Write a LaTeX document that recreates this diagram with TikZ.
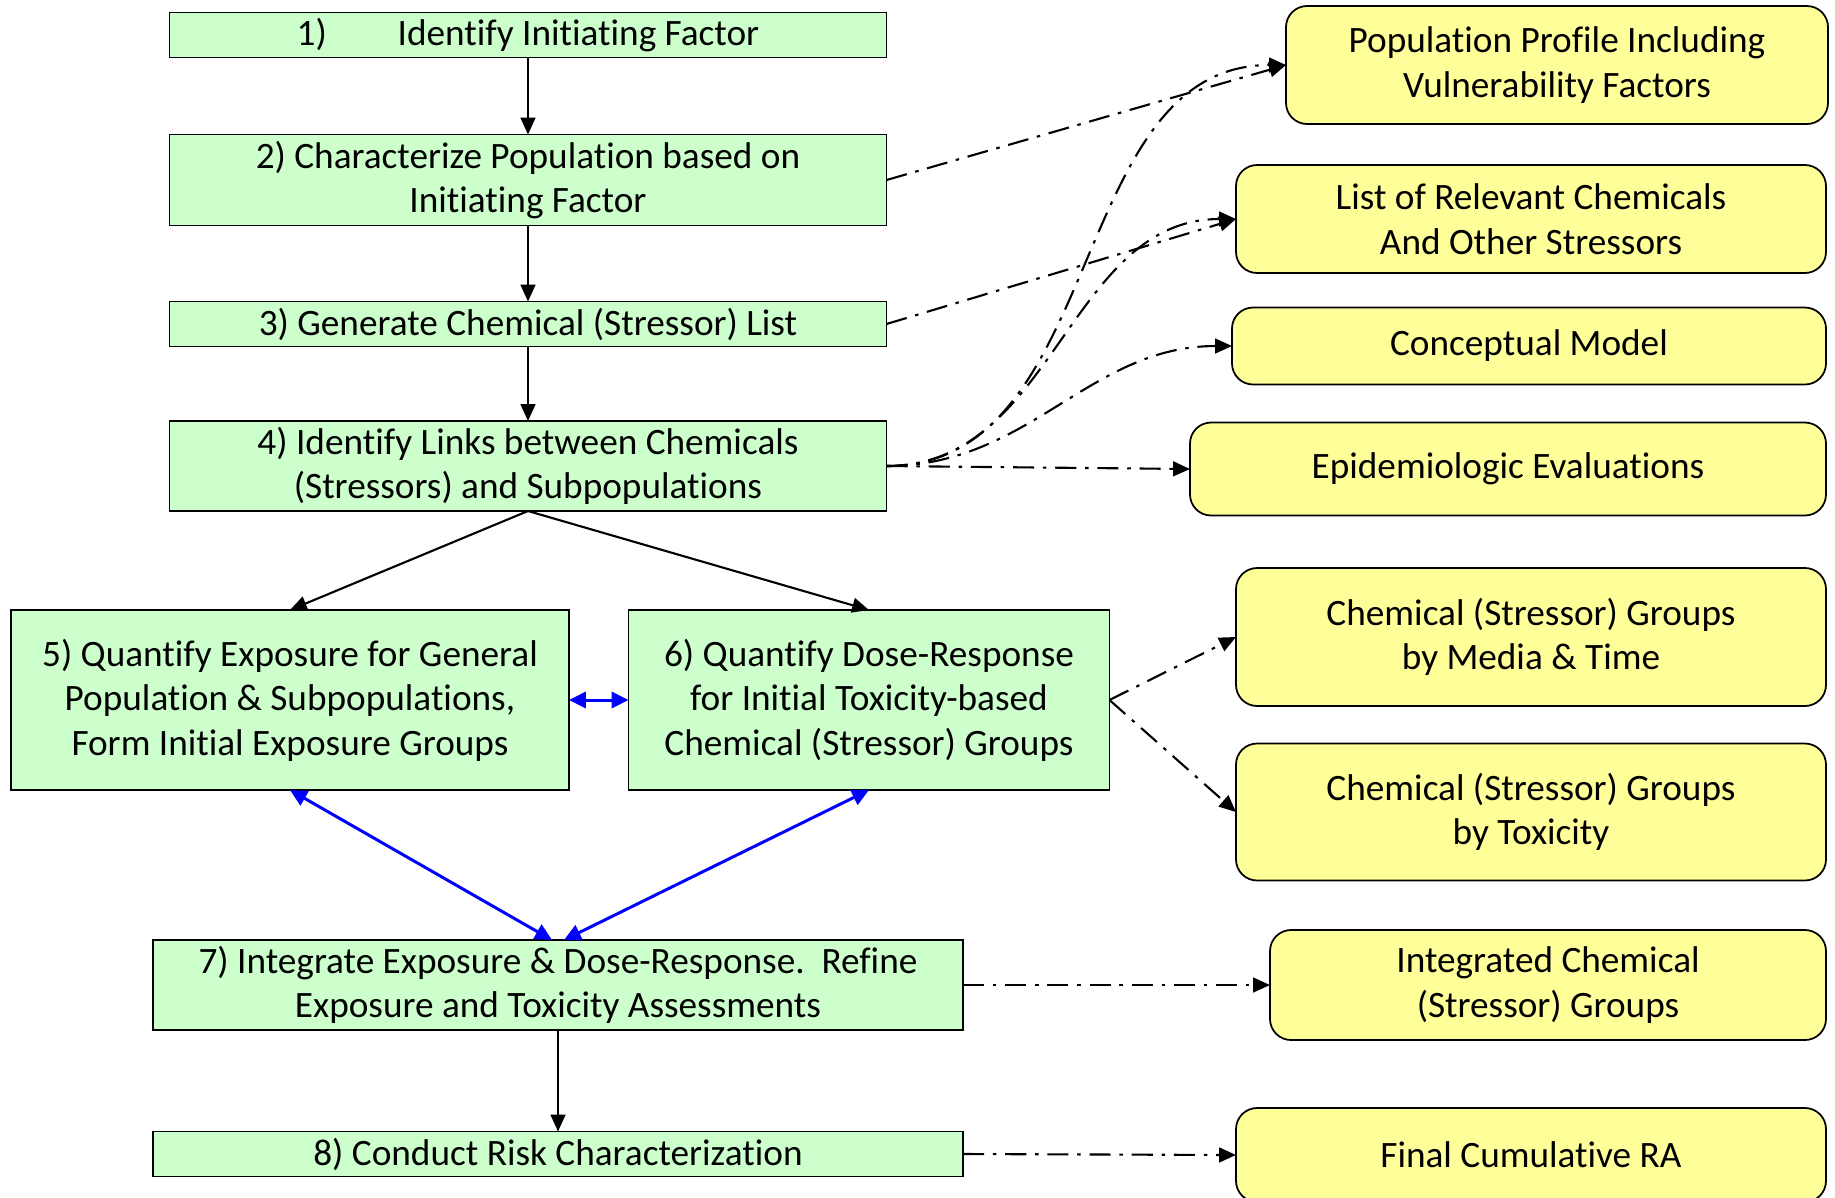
\documentclass[tikz,border=0pt]{standalone}
\usepackage{fontspec}
\setmainfont{Carlito}[RawFeature={-liga;-clig;-calt;-rlig;-dlig}]
\usetikzlibrary{arrows.meta}
\definecolor{stepgreen}{RGB}{204,255,204}
\definecolor{outyellow}{RGB}{255,255,153}
\begin{document}
\begin{tikzpicture}[
  stepbox/.style={draw=black, line width=0.5pt, fill=stepgreen, inner sep=0pt, outer sep=0pt, align=center, font=\fontsize{10.6}{12.7}\selectfont},
  outbox/.style={draw=black, line width=0.5pt, fill=outyellow, rounded corners=6pt, inner sep=0pt, outer sep=0pt, align=center, font=\fontsize{10.6}{12.7}\selectfont},
  flow/.style={line width=0.6pt, -{Triangle[length=4.8pt,width=4.2pt]}},
  link/.style={line width=0.85pt, blue, {Triangle[length=4.8pt,width=4.6pt]}-{Triangle[length=4.8pt,width=4.6pt]}},
  yields/.style={line width=0.6pt, dash pattern=on 6pt off 2.5pt on 1pt off 2.5pt, -{Triangle[length=4.8pt,width=4.2pt]}}
]
\useasboundingbox (0,0) rectangle (18.35,-11.97);

% steps
\node (s1) at (5.28,-0.35) [stepbox, minimum width=7.17cm, minimum height=0.45cm]{1)\hspace{1.9em}Identify Initiating Factor};
\node (s2) at (5.28,-1.80) [stepbox, minimum width=7.17cm, minimum height=0.91cm]{2) Characterize Population based on\\Initiating Factor};
\node (s3) at (5.28,-3.24) [stepbox, minimum width=7.17cm, minimum height=0.45cm]{3) Generate Chemical (Stressor) List};
\node (s4) at (5.28,-4.66) [stepbox, minimum width=7.17cm, minimum height=0.90cm]{4) Identify Links between Chemicals\\(Stressors) and Subpopulations};
\node (s5) at (2.90,-7.00) [stepbox, minimum width=5.58cm, minimum height=1.80cm]{5) Quantify Exposure for General\\Population \& Subpopulations,\\Form Initial Exposure Groups};
\node (s6) at (8.69,-7.00) [stepbox, minimum width=4.81cm, minimum height=1.80cm]{6) Quantify Dose-Response\\for Initial Toxicity-based\\Chemical (Stressor) Groups};
\node (s7) at (5.58,-9.85) [stepbox, minimum width=8.10cm, minimum height=0.90cm]{7) Integrate Exposure \& Dose-Response.\ \ Refine\\Exposure and Toxicity Assessments};
\node (s8) at (5.58,-11.54) [stepbox, minimum width=8.10cm, minimum height=0.45cm]{8) Conduct Risk Characterization};

% outputs
\node (o1) at (15.57,-0.65) [outbox, minimum width=5.42cm, minimum height=1.18cm]{Population Profile Including\\Vulnerability Factors};
\node (o2) at (15.31,-2.19) [outbox, minimum width=5.90cm, minimum height=1.08cm]{List of Relevant Chemicals\\And Other Stressors};
\node (o3) at (15.29,-3.46) [outbox, minimum width=5.94cm, minimum height=0.77cm]{Conceptual Model};
\node (o4) at (15.08,-4.69) [outbox, minimum width=6.36cm, minimum height=0.93cm]{Epidemiologic Evaluations};
\node (o5) at (15.31,-6.37) [outbox, minimum width=5.90cm, minimum height=1.38cm]{Chemical (Stressor) Groups\\by Media \& Time};
\node (o6) at (15.31,-8.12) [outbox, minimum width=5.90cm, minimum height=1.37cm]{Chemical (Stressor) Groups\\by Toxicity};
\node (o7) at (15.48,-9.85) [outbox, minimum width=5.56cm, minimum height=1.10cm]{Integrated Chemical\\(Stressor) Groups};
\node (o8) at (15.31,-11.55) [outbox, minimum width=5.90cm, minimum height=0.94cm]{Final Cumulative RA};

\draw[flow] (s1)--(s2);
\draw[flow] (s2)--(s3);
\draw[flow] (s3)--(s4);
\draw[flow] (s4.south)--(s5.north);
\draw[flow] (s4.south)--(s6.north);
\draw[flow] (s7)--(s8);

\draw[link] (s5)--(s6);
\draw[link] (s5.south)--([xshift=-0.06cm]s7.north);
\draw[link] (s6.south)--([xshift=0.06cm]s7.north);

\draw[yields] (s2.east)--(o1.west);
\draw[yields] (s3.east)--(o2.west);
\draw[yields] (s4.east) to[out=0,in=180] (o1.west);
\draw[yields] (s4.east) to[out=0,in=180] (o2.west);
\draw[yields] (s4.east) to[out=0,in=180] (o3.west);
\draw[yields] (s4.east)--(o4.west);
\draw[yields] (s6.east)--(o5.west);
\draw[yields] (s6.east)--(o6.west);
\draw[yields] (s7.east)--(o7.west);
\draw[yields] (s8.east)--(o8.west);

\end{tikzpicture}
\end{document}
